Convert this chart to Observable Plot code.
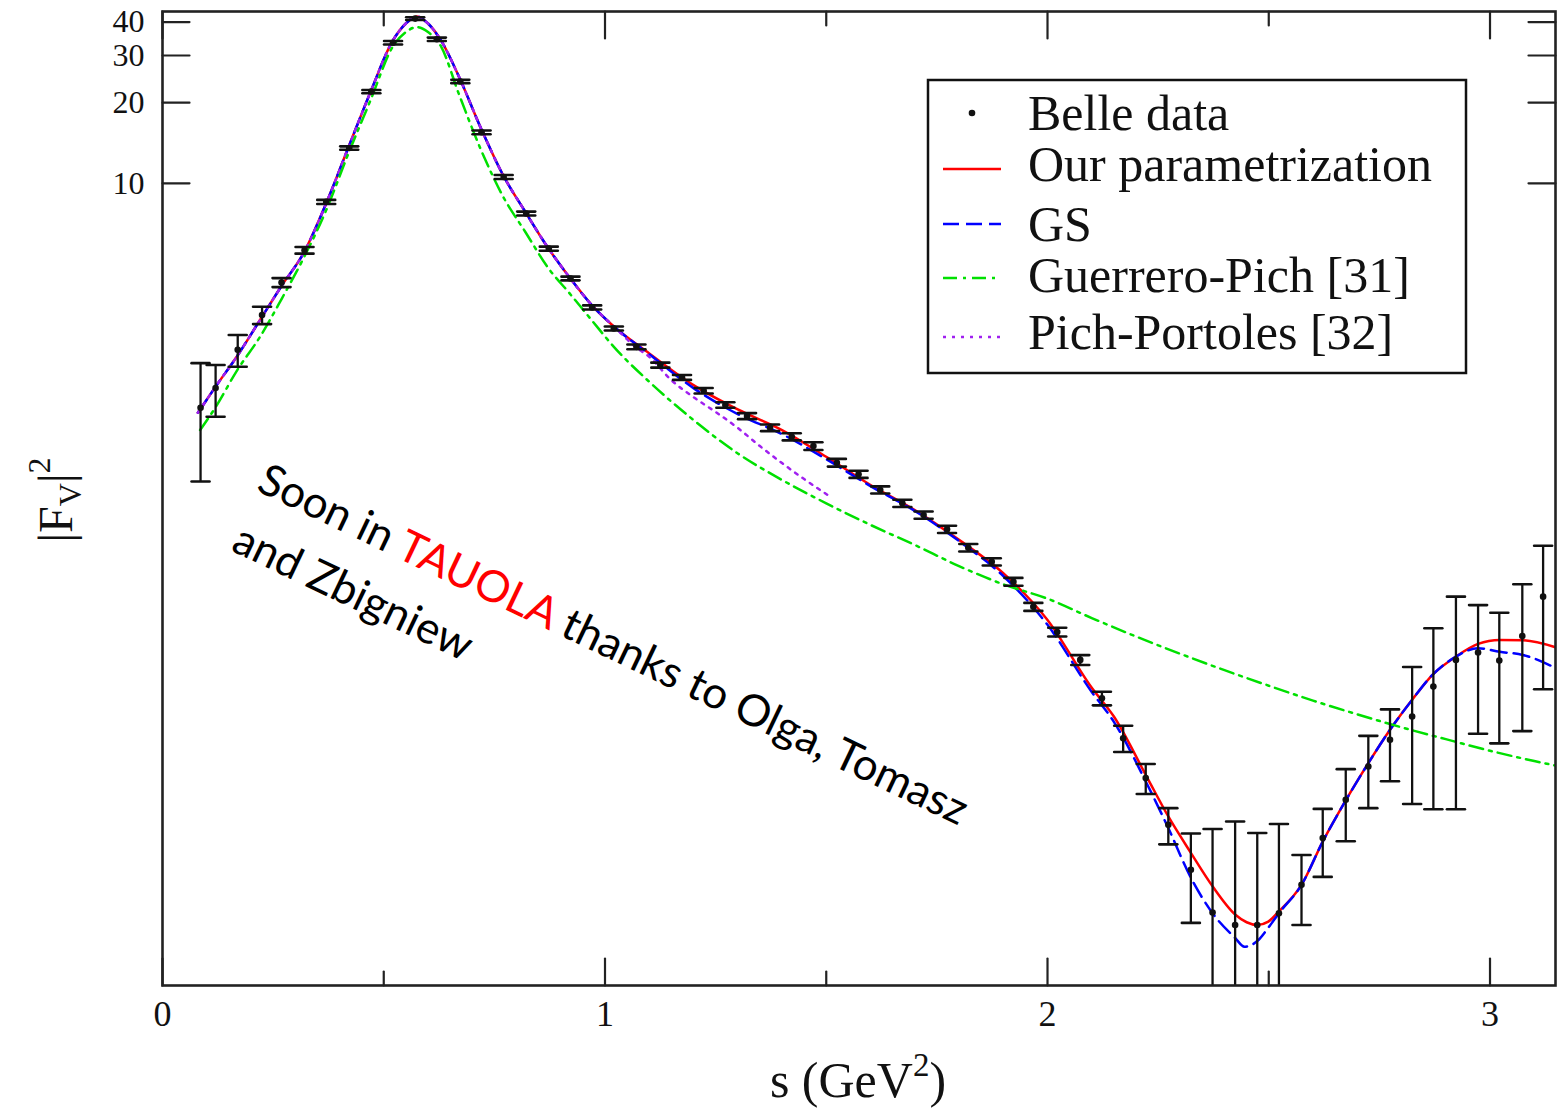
<!DOCTYPE html>
<html>
<head>
<meta charset="utf-8">
<script src="https://cdn.jsdelivr.net/npm/d3@7"></script>
<script src="https://cdn.jsdelivr.net/npm/@observablehq/plot@0.6"></script>
<style>
  html, body { margin: 0; padding: 0; background: #fff; }
  #wrap { position: relative; width: 1557px; height: 1110px; overflow: hidden; }
</style>
</head>
<body>
<div id="wrap"></div>
<script>
// ---- Belle data: s (GeV^2), |F_V|^2, error ----
const belleS = [0.086,0.120,0.170,0.225,0.269,0.321,0.370,0.422,0.472,0.521,0.571,0.620,0.673,0.721,0.771,0.822,0.873,0.922,0.971,1.020,1.071,1.125,1.174,1.223,1.272,1.321,1.373,1.422,1.471,1.524,1.573,1.622,1.672,1.720,1.773,1.821,1.874,1.923,1.968,2.022,2.074,2.123,2.171,2.222,2.273,2.324,2.373,2.424,2.474,2.523,2.574,2.622,2.674,2.725,2.774,2.824,2.872,2.923,2.973,3.021,3.073,3.120];
const belleV = [1.45,1.72,2.39,3.22,4.26,5.62,8.52,13.54,22.0,33.5,41.2,34.5,24.0,15.5,10.56,7.71,5.70,4.41,3.44,2.87,2.45,2.094,1.884,1.68,1.486,1.351,1.222,1.131,1.044,0.905,0.819,0.716,0.638,0.577,0.5105,0.4357,0.386,0.325,0.262,0.211,0.166,0.1193,0.0847,0.0601,0.0402,0.0273,0.0189,0.0170,0.0170,0.0188,0.024,0.0359,0.0499,0.0664,0.0835,0.1021,0.132,0.166,0.177,0.165,0.204,0.286];
const belleErr = [0.68,0.376,0.324,0.24,0.165,0.16,0.15,0.2,0.3,0.5,0.5,0.5,0.35,0.25,0.18,0.13,0.1,0.07,0.06,0.05,0.05,0.045,0.04,0.04,0.035,0.035,0.035,0.035,0.035,0.03,0.025,0.022,0.02,0.018,0.016,0.014,0.012,0.011,0.009,0.008,0.007,0.007,0.0095,0.0077,0.0062,0.01,0.0199,0.0244,0.0205,0.0217,0.007,0.0102,0.015,0.02,0.025,0.054,0.086,0.12,0.089,0.084,0.114,0.157];

// ---- Our parametrization (red, solid) ----
const ourS = [0.08,0.12,0.17,0.22,0.27,0.32,0.37,0.42,0.47,0.52,0.55,0.575,0.60,0.63,0.67,0.72,0.77,0.82,0.87,0.92,0.97,1.02,1.1,1.2,1.3,1.4,1.5,1.6,1.7,1.8,1.9,2.0,2.1,2.15,2.224,2.273,2.324,2.373,2.424,2.45,2.474,2.499,2.523,2.574,2.622,2.674,2.725,2.774,2.824,2.870,2.923,2.973,3.022,3.074,3.148];
const ourV = [1.39,1.74,2.28,3.08,4.16,5.53,8.42,13.6,21.9,34.0,39.5,42.0,39.5,34.0,25.0,16.0,10.7,7.82,5.78,4.45,3.51,2.92,2.315,1.763,1.43,1.198,0.952,0.747,0.602,0.466,0.35,0.234,0.1306,0.102,0.0609,0.0432,0.0316,0.0237,0.0186,0.0174,0.0170,0.0175,0.0191,0.024,0.0348,0.0496,0.0683,0.091,0.1178,0.146,0.1708,0.1905,0.197,0.1965,0.185];

// ---- GS (blue, dashed) ----
const gsS = [0.08,0.12,0.17,0.22,0.27,0.32,0.37,0.42,0.47,0.52,0.55,0.575,0.60,0.63,0.67,0.72,0.77,0.82,0.87,0.92,0.97,1.02,1.1,1.2,1.3,1.4,1.5,1.6,1.7,1.8,1.9,2.0,2.1,2.15,2.224,2.273,2.324,2.373,2.424,2.445,2.474,2.499,2.523,2.574,2.622,2.674,2.725,2.774,2.824,2.870,2.923,2.973,3.022,3.074,3.148];
const gsV = [1.39,1.74,2.28,3.08,4.16,5.53,8.42,13.6,21.9,34.0,39.5,42.0,39.5,34.0,25.0,16.0,10.7,7.82,5.78,4.45,3.51,2.92,2.30,1.718,1.374,1.157,0.933,0.74,0.598,0.4615,0.3416,0.2244,0.126,0.0975,0.0575,0.0391,0.0255,0.0188,0.0152,0.0141,0.0148,0.0166,0.0188,0.024,0.0348,0.0496,0.0683,0.091,0.1178,0.146,0.1708,0.1836,0.178,0.1733,0.155];

// ---- Guerrero-Pich [31] (green, dash-dot) ----
const gpS = [0.085,0.12,0.17,0.22,0.27,0.32,0.37,0.42,0.47,0.52,0.55,0.575,0.60,0.63,0.67,0.72,0.77,0.82,0.87,0.92,0.97,1.02,1.1,1.2,1.3,1.4,1.5,1.6,1.7,1.8,1.9,2.0,2.1,2.2,2.3,2.4,2.5,2.6,2.7,2.8,2.9,3.0,3.1,3.148];
const gpV = [1.198,1.459,2.02,2.664,3.72,5.30,7.94,12.9,20.4,32.3,36.7,38.3,36.7,32.3,21.5,13.3,8.9,6.58,4.87,3.88,3.08,2.45,1.814,1.306,0.98,0.78,0.638,0.53,0.446,0.372,0.318,0.281,0.238,0.203,0.175,0.152,0.133,0.117,0.104,0.093,0.084,0.076,0.0696,0.0669];

// ---- Pich-Portoles [32] (purple, dotted) ----
const ppS = [0.08,0.12,0.17,0.22,0.27,0.32,0.37,0.42,0.47,0.52,0.55,0.575,0.60,0.63,0.67,0.72,0.77,0.82,0.87,0.92,0.97,1.02,1.07,1.1,1.15,1.2,1.25,1.3,1.35,1.4,1.45,1.51];
const ppV = [1.39,1.74,2.28,3.08,4.16,5.53,8.42,13.6,21.9,34.0,39.5,42.0,39.5,34.0,25.0,16.0,10.7,7.82,5.78,4.45,3.51,2.92,2.44,2.25,1.84,1.59,1.40,1.22,1.044,0.902,0.786,0.674];

// ---- ticks ----
const xTicks = [0, 1, 2, 3];
const xMinorTicks = [0.5, 1.5, 2.5];
const yTicks = [10, 20, 30, 40];

// ---- legend entries ----
const legendLabels = ["Belle data", "Our parametrization", "GS", "Guerrero-Pich [31]", "Pich-Portoles [32]"];
const seriesColors = ["#111111", "#ff0000", "#0000ff", "#00e000", "#a020f0"];
const seriesDash = [null, null, "16,7", "14,6,3,6", "3,6"];

// ---- build tables ----
const yMin = 0.0101, yMax = 43.8;
const belle = belleS.map((s, i) => ({
  s, v: belleV[i],
  hi: belleV[i] + belleErr[i],
  lo: Math.max(belleV[i] - belleErr[i], 0.004),
  lowCap: belleV[i] - belleErr[i] > yMin
}));
const toRows = (S, V) => S.map((s, i) => ({s, v: V[i]}));
const our = toRows(ourS, ourV), gs = toRows(gsS, gsV), gp = toRows(gpS, gpV), pp = toRows(ppS, ppV);

const lineShape = { draw(ctx, l) { ctx.moveTo(0, 0); ctx.lineTo(0, -l); } };
const tickStyle = {stroke: "#222", strokeWidth: 2.2, anchor: "start", shape: lineShape};
const capStyle = {stroke: "#111", strokeWidth: 2.6, anchor: "middle", shape: lineShape, length: 18, rotate: 90};
const serif = "'Liberation Serif', 'DejaVu Serif', serif";
const LW = 2.5;

const W = 1557, H = 1110;
const plot = Plot.plot({
  width: W, height: H,
  marginTop: 11, marginRight: 2, marginBottom: 125, marginLeft: 162,
  style: {fontFamily: serif, background: "white", color: "#111", overflow: "visible"},
  x: {domain: [0, 3.148]},
  y: {type: "log", domain: [yMin, yMax]},
  marks: [
    Plot.line(our, {x: "s", y: "v", stroke: seriesColors[1], strokeWidth: LW, clip: true, curve: "monotone-x"}),
    Plot.line(gs, {x: "s", y: "v", stroke: seriesColors[2], strokeWidth: LW, strokeDasharray: seriesDash[2], clip: true, curve: "monotone-x"}),
    Plot.line(pp, {x: "s", y: "v", stroke: seriesColors[4], strokeWidth: LW, strokeDasharray: seriesDash[4], clip: true, curve: "monotone-x"}),
    Plot.line(gp, {x: "s", y: "v", stroke: seriesColors[3], strokeWidth: LW, strokeDasharray: seriesDash[3], clip: true, curve: "monotone-x"}),
    Plot.ruleX(belle, {x: "s", y1: "lo", y2: "hi", stroke: "#111", strokeWidth: 2.3, clip: true}),
    Plot.vector(belle, {x: "s", y: "hi", ...capStyle}),
    Plot.vector(belle.filter(d => d.lowCap), {x: "s", y: "lo", ...capStyle}),
    Plot.dot(belle, {x: "s", y: "v", r: 3.3, fill: "#111"}),
    // inward ticks
    Plot.vector(xTicks, {x: d => d, frameAnchor: "bottom", length: 27, rotate: 0, ...tickStyle}),
    Plot.vector(xMinorTicks, {x: d => d, frameAnchor: "bottom", length: 14, rotate: 0, ...tickStyle}),
    Plot.vector(xTicks, {x: d => d, frameAnchor: "top", length: 27, rotate: 180, ...tickStyle}),
    Plot.vector(xMinorTicks, {x: d => d, frameAnchor: "top", length: 14, rotate: 180, ...tickStyle}),
    Plot.vector(yTicks, {y: d => d, frameAnchor: "left", length: 27, rotate: 90, ...tickStyle}),
    Plot.vector(yTicks, {y: d => d, frameAnchor: "right", length: 27, rotate: -90, ...tickStyle}),
    Plot.frame({stroke: "#222", strokeWidth: 2.6}),
    Plot.axisX(xTicks, {anchor: "bottom", tickSize: 0, tickPadding: 15, fontSize: 36, fontFamily: serif, label: null, tickFormat: d => String(d)}),
    Plot.axisY(yTicks, {anchor: "left", tickSize: 0, tickPadding: 18, fontSize: 32, fontFamily: serif, label: null, tickFormat: d => String(d)})
  ]
});
document.getElementById("wrap").appendChild(plot);

const svg = d3.select(plot);

// axis titles
const xt = svg.append("text").attr("x", 858).attr("y", 1097).attr("text-anchor", "middle")
  .attr("font-family", serif).attr("font-size", 50).attr("fill", "#111");
xt.append("tspan").text("s (GeV");
xt.append("tspan").attr("dy", -21).attr("font-size", 33).text("2");
xt.append("tspan").attr("dy", 21).text(")");

const yt = svg.append("text").attr("transform", "translate(72,500) rotate(-90)").attr("text-anchor", "middle")
  .attr("font-family", serif).attr("font-size", 48).attr("fill", "#111");
yt.append("tspan").text("|F");
yt.append("tspan").attr("dy", 9).attr("font-size", 32).text("V");
yt.append("tspan").attr("dy", -9).text("|");
yt.append("tspan").attr("dy", -22).attr("font-size", 32).text("2");

// legend
const lg = svg.append("g").attr("text-anchor", "start");
lg.append("rect").attr("x", 928).attr("y", 80).attr("width", 538).attr("height", 293)
  .attr("fill", "white").attr("stroke", "#111").attr("stroke-width", 2.5);
const baselines = [130, 181, 241, 292, 349];
const sampleY = [113, 169, 224, 278, 337];
legendLabels.forEach((lab, i) => {
  if (i === 0) {
    lg.append("circle").attr("cx", 972).attr("cy", sampleY[0]).attr("r", 3.3).attr("fill", seriesColors[0]);
  } else {
    lg.append("line").attr("x1", 943).attr("x2", 1001).attr("y1", sampleY[i]).attr("y2", sampleY[i])
      .attr("stroke", seriesColors[i]).attr("stroke-width", LW)
      .attr("stroke-dasharray", seriesDash[i]);
  }
  lg.append("text").attr("x", 1028).attr("y", baselines[i]).attr("text-anchor", "start")
    .attr("font-family", serif).attr("font-size", 50).attr("fill", "#111").text(lab);
});

// annotation
const sans = "Lato, 'Open Sans', sans-serif";
const note = svg.append("g").attr("transform", "translate(255,490) rotate(25.5)")
  .attr("text-anchor", "start").attr("font-family", sans).attr("font-size", 44).attr("fill", "#000");
const l1 = note.append("text").attr("x", 0).attr("y", 0).attr("text-anchor", "start");
l1.append("tspan").text("Soon in ");
l1.append("tspan").attr("fill", "#ff0000").text("TAUOLA");
l1.append("tspan").text(" thanks to Olga, Tomasz");
note.append("text").attr("x", 3).attr("y", 65).attr("text-anchor", "start").text("and Zbigniew");
</script>
</body>
</html>
